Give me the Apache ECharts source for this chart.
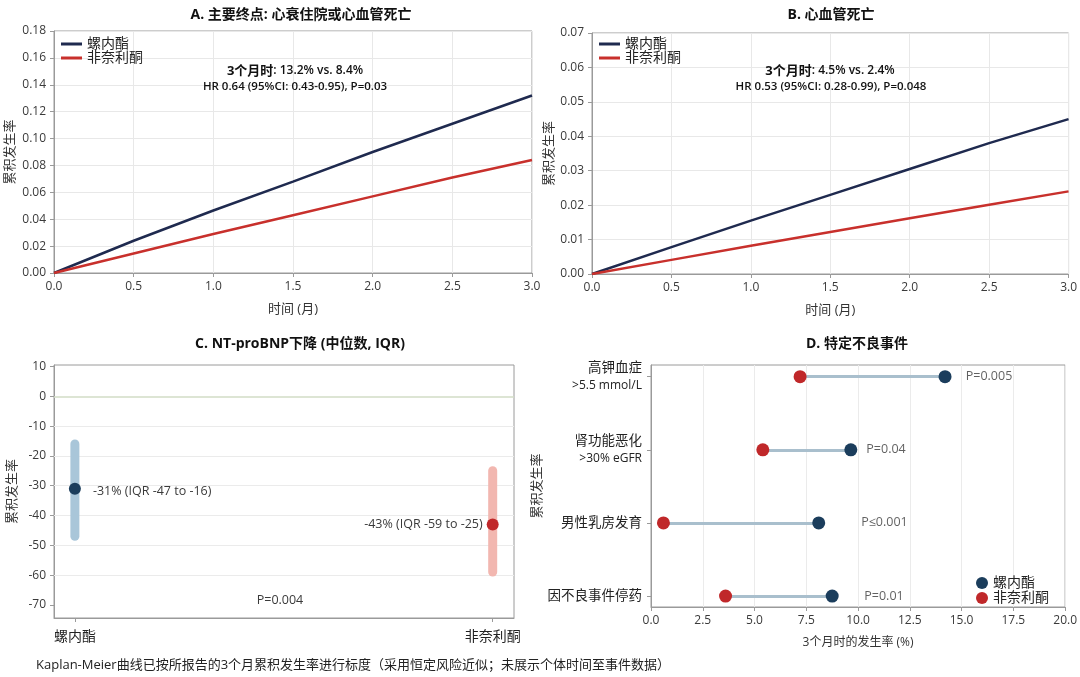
<!DOCTYPE html>
<html>
<head>
<meta charset="utf-8">
<script src="https://cdn.jsdelivr.net/npm/echarts@6/dist/echarts.min.js"></script>
<style>
  html, body { margin: 0; background: #fff; }
  #chart { width: 1080px; height: 677px; }
</style>
</head>
<body>
<div id="chart"></div>
<script>
// A / B: 累积发生率 (按3个月发生率标度)
const months = [0, 0.5, 1, 1.5, 2, 2.5, 3]
const primarySpiro = [0, 0.024, 0.0465, 0.068, 0.090, 0.111, 0.132]
const primaryFine = [0, 0.0145, 0.029, 0.043, 0.057, 0.071, 0.084]
const cvdSpiro = [0, 0.0078, 0.0155, 0.023, 0.0305, 0.038, 0.045]
const cvdFine = [0, 0.0041, 0.0082, 0.0122, 0.0162, 0.0201, 0.024]

// C: NT-proBNP 下降
const cGroups = ['螺内酯', '非奈利酮']
const cMedian = [-31, -43]
const cQ1 = [-47, -59]
const cQ3 = [-16, -25]
const cLabels = ['-31% (IQR -47 to -16)', '-43% (IQR -59 to -25)']
const cTicks = [10, 0, -10, -20, -30, -40, -50, -60, -70]
const cGrid = [-10, -20, -30, -40, -50, -60]

// D: 特定不良事件
const dEvents = ['高钾血症', '肾功能恶化', '男性乳房发育', '因不良事件停药']
const dSub = ['>5.5 mmol/L', '>30% eGFR', '', '']
const dSpiro = [14.2, 9.65, 8.1, 8.75]
const dFine = [7.2, 5.4, 0.6, 3.6]
const dP = ['P=0.005', 'P=0.04', 'P≤0.001', 'P=0.01']
const dPx = [15.2, 10.4, 10.15, 10.3]

const FONT = '"Open Sans", "Noto Sans CJK SC", sans-serif'
const BLUE = '#1f2a4f'
const RED = '#c8302c'
const BLUE_D = '#1b3d5c'
const RED_D = '#c0282a'
const AXIS = '#9a9a9a'
const TXT = '#3a3a3a'

const pairs = (xs, ys) => xs.map((x, i) => [x, ys[i]])

// 通用坐标轴样式
function baseAxis(extra) {
  return Object.assign({
    axisLine: { show: true, onZero: false, lineStyle: { color: AXIS } },
    axisTick: { show: true, length: 4, lineStyle: { color: AXIS } },
    axisLabel: { color: TXT, fontSize: 12, fontFamily: FONT },
    splitLine: { show: true, lineStyle: { color: '#e8e8e8' } },
    nameTextStyle: { color: '#333', fontSize: 13, fontFamily: FONT },
    nameLocation: 'middle'
  }, extra)
}

const gridBox = { show: true, borderColor: AXIS, borderWidth: 1, containLabel: false }

const option = {
  animation: false,
  backgroundColor: '#fff',
  textStyle: { fontFamily: FONT },
  grid: [
    Object.assign({ left: 54, top: 31, width: 478, height: 242 }, gridBox),
    Object.assign({ left: 592, top: 33, width: 477, height: 241 }, gridBox),
    Object.assign({ left: 54, top: 365, width: 460, height: 253 }, gridBox),
    Object.assign({ left: 651, top: 365, width: 416, height: 242 }, gridBox)
  ],
  xAxis: [
    baseAxis({
      gridIndex: 0, type: 'value', min: 0, max: 3, interval: 0.5,
      name: '时间 (月)', nameGap: 30,
      axisLabel: { color: TXT, fontSize: 12, fontFamily: FONT, formatter: v => v.toFixed(1) }
    }),
    baseAxis({
      gridIndex: 1, type: 'value', min: 0, max: 3, interval: 0.5,
      name: '时间 (月)', nameGap: 30,
      axisLabel: { color: TXT, fontSize: 12, fontFamily: FONT, formatter: v => v.toFixed(1) }
    }),
    baseAxis({
      gridIndex: 2, type: 'value', min: -0.05, max: 1.051,
      splitLine: { show: false },
      axisTick: { show: true, length: 4, customValues: [0, 1], lineStyle: { color: AXIS } },
      axisLabel: {
        color: '#222', fontSize: 14, fontFamily: FONT, margin: 12,
        customValues: [0, 1], formatter: v => cGroups[Math.round(v)]
      }
    }),
    baseAxis({
      gridIndex: 3, type: 'value', min: 0, max: 20, interval: 2.5,
      name: '3个月时的发生率 (%)', nameGap: 30,
      nameTextStyle: { color: '#333', fontSize: 12, fontFamily: FONT },
      splitLine: { show: true, lineStyle: { color: '#ebebeb' } },
      axisLabel: { color: TXT, fontSize: 12, fontFamily: FONT, formatter: v => v.toFixed(1) }
    })
  ],
  yAxis: [
    baseAxis({
      gridIndex: 0, type: 'value', min: 0, max: 0.18, interval: 0.02,
      name: '累积发生率', nameGap: 37,
      axisLabel: { color: TXT, fontSize: 12, fontFamily: FONT, formatter: v => v.toFixed(2) }
    }),
    baseAxis({
      gridIndex: 1, type: 'value', min: 0, max: 0.07, interval: 0.01,
      name: '累积发生率', nameGap: 36,
      axisLabel: { color: TXT, fontSize: 12, fontFamily: FONT, formatter: v => v.toFixed(2) }
    }),
    baseAxis({
      gridIndex: 2, type: 'value', min: -74.4, max: 10.5,
      name: '累积发生率', nameGap: 35,
      splitLine: { show: false },
      axisTick: { show: true, length: 4, customValues: cTicks, lineStyle: { color: AXIS } },
      axisLabel: { color: TXT, fontSize: 12, fontFamily: FONT, customValues: cTicks }
    }),
    baseAxis({
      gridIndex: 3, type: 'value', inverse: true, min: -0.16, max: 3.15,
      name: '累积发生率', nameGap: 104,
      splitLine: { show: false },
      axisTick: { show: true, length: 4, customValues: [0, 1, 2, 3], lineStyle: { color: AXIS } },
      axisLabel: {
        customValues: [0, 1, 2, 3], margin: 9, align: 'right',
        formatter: v => {
          const i = Math.round(v)
          return dSub[i] ? '{a|' + dEvents[i] + '}\n{b|' + dSub[i] + '}' : '{a|' + dEvents[i] + '}'
        },
        rich: {
          a: { fontSize: 13.5, color: '#222', fontFamily: FONT, lineHeight: 17, align: 'right' },
          b: { fontSize: 12, color: '#222', fontFamily: FONT, lineHeight: 17, align: 'right' }
        }
      }
    })
  ],
  legend: [
    {
      left: 61, top: 37, orient: 'vertical', icon: 'rect',
      itemWidth: 21, itemHeight: 3, itemGap: 0, padding: 0,
      textStyle: { fontSize: 14, color: '#222', fontFamily: FONT, lineHeight: 14 },
      data: [
        { name: '螺内酯', itemStyle: { color: BLUE } },
        { name: '非奈利酮', itemStyle: { color: RED } }
      ]
    },
    {
      left: 599, top: 37, orient: 'vertical', icon: 'rect',
      itemWidth: 21, itemHeight: 3, itemGap: 0, padding: 0,
      textStyle: { fontSize: 14, color: '#222', fontFamily: FONT, lineHeight: 14 },
      data: [
        { name: '螺内酯', itemStyle: { color: BLUE } },
        { name: '非奈利酮', itemStyle: { color: RED } }
      ]
    },
    {
      left: 976, top: 576, orient: 'vertical', icon: 'circle',
      itemWidth: 12, itemHeight: 12, itemGap: 1, padding: 0,
      textStyle: { fontSize: 14, color: '#222', fontFamily: FONT, lineHeight: 13 },
      data: [
        { name: '螺内酯', itemStyle: { color: BLUE_D } },
        { name: '非奈利酮', itemStyle: { color: RED_D } }
      ]
    }
  ],
  series: [
    // A
    { type: 'line', name: '螺内酯', xAxisIndex: 0, yAxisIndex: 0, data: pairs(months, primarySpiro),
      showSymbol: false, lineStyle: { color: BLUE, width: 2.5 }, itemStyle: { color: BLUE } },
    { type: 'line', name: '非奈利酮', xAxisIndex: 0, yAxisIndex: 0, data: pairs(months, primaryFine),
      showSymbol: false, lineStyle: { color: RED, width: 2.5 }, itemStyle: { color: RED } },
    // B
    { type: 'line', name: '螺内酯', xAxisIndex: 1, yAxisIndex: 1, data: pairs(months, cvdSpiro),
      showSymbol: false, lineStyle: { color: BLUE, width: 2.5 }, itemStyle: { color: BLUE } },
    { type: 'line', name: '非奈利酮', xAxisIndex: 1, yAxisIndex: 1, data: pairs(months, cvdFine),
      showSymbol: false, lineStyle: { color: RED, width: 2.5 }, itemStyle: { color: RED } },
    // C: 网格线 + IQR
    { type: 'line', name: 'IQR-螺内酯', xAxisIndex: 2, yAxisIndex: 2, z: 2,
      data: [[0, cQ1[0]], [0, cQ3[0]]], showSymbol: false, silent: true,
      lineStyle: { color: '#a9c6d9', width: 9, cap: 'round' },
      markLine: {
        silent: true, symbol: 'none', label: { show: false }, z: 1,
        data: cGrid.map(v => ({ yAxis: v, lineStyle: { color: '#ebebeb', width: 1, type: 'solid' } }))
          .concat([{ yAxis: 0, lineStyle: { color: '#d2dcc6', width: 1.5, type: 'solid' } }])
      }
    },
    { type: 'line', name: 'IQR-非奈利酮', xAxisIndex: 2, yAxisIndex: 2, z: 2,
      data: [[1, cQ1[1]], [1, cQ3[1]]], showSymbol: false, silent: true,
      lineStyle: { color: '#f2b7b0', width: 9, cap: 'round' } },
    { type: 'scatter', name: '螺内酯', xAxisIndex: 2, yAxisIndex: 2, z: 5,
      data: [[0, cMedian[0]]], symbolSize: 12, itemStyle: { color: BLUE_D, opacity: 1 },
      label: { show: true, position: 'right', distance: 12, offset: [0, 3], formatter: cLabels[0],
        color: TXT, fontSize: 12.5, fontFamily: FONT } },
    { type: 'scatter', name: '非奈利酮', xAxisIndex: 2, yAxisIndex: 2, z: 5,
      data: [[1, cMedian[1]]], symbolSize: 12, itemStyle: { color: RED_D, opacity: 1 },
      label: { show: true, position: 'left', distance: 4, formatter: cLabels[1],
        color: TXT, fontSize: 12.5, fontFamily: FONT } },
    // D
    { type: 'lines', coordinateSystem: 'cartesian2d', xAxisIndex: 3, yAxisIndex: 3, silent: true, z: 2,
      lineStyle: { color: '#a9bfcd', width: 3, opacity: 1 },
      data: dEvents.map((_, i) => ({ coords: [[dFine[i], i], [dSpiro[i], i]] })) },
    { type: 'scatter', name: '非奈利酮', xAxisIndex: 3, yAxisIndex: 3, z: 5,
      data: dEvents.map((_, i) => [dFine[i], i]), symbolSize: 13, itemStyle: { color: RED_D, opacity: 1 } },
    { type: 'scatter', name: '螺内酯', xAxisIndex: 3, yAxisIndex: 3, z: 5,
      data: dEvents.map((_, i) => [dSpiro[i], i]), symbolSize: 13, itemStyle: { color: BLUE_D, opacity: 1 } },
    { type: 'scatter', name: 'P值', xAxisIndex: 3, yAxisIndex: 3, silent: true,
      data: dEvents.map((_, i) => [dPx[i], i]), symbolSize: 0,
      label: { show: true, position: [0, 0], align: 'left', verticalAlign: 'middle',
        formatter: p => dP[p.dataIndex], color: TXT, fontSize: 12.5, fontFamily: FONT } }
  ],
  graphic: [
    { type: 'text', z: 100, x: 301, y: 15, style: { text: 'A. 主要终点: 心衰住院或心血管死亡', fill: '#111',
      font: 'bold 14px ' + FONT, align: 'center', verticalAlign: 'middle' } },
    { type: 'text', z: 100, x: 831, y: 15, style: { text: 'B. 心血管死亡', fill: '#111',
      font: 'bold 14px ' + FONT, align: 'center', verticalAlign: 'middle' } },
    { type: 'text', z: 100, x: 300, y: 344, style: { text: 'C. NT-proBNP下降 (中位数, IQR)', fill: '#111',
      font: 'bold 14px ' + FONT, align: 'center', verticalAlign: 'middle' } },
    { type: 'text', z: 100, x: 857, y: 344, style: { text: 'D. 特定不良事件', fill: '#111',
      font: 'bold 14px ' + FONT, align: 'center', verticalAlign: 'middle' } },
    // A 注释
    { type: 'text', z: 100, x: 295, y: 71, style: {
      text: '{h|3个月时}{t|: 13.2% vs. 8.4%}', align: 'center', verticalAlign: 'middle',
      rich: { h: { font: 'bold 13px ' + FONT, fill: '#111' }, t: { font: '600 12px ' + FONT, fill: '#111' } } } },
    { type: 'text', z: 100, x: 295, y: 87, style: { text: 'HR 0.64 (95%CI: 0.43-0.95), P=0.03',
      font: '600 11.5px ' + FONT, fill: '#111', align: 'center', verticalAlign: 'middle' } },
    // B 注释
    { type: 'text', z: 100, x: 830, y: 71, style: {
      text: '{h|3个月时}{t|: 4.5% vs. 2.4%}', align: 'center', verticalAlign: 'middle',
      rich: { h: { font: 'bold 13px ' + FONT, fill: '#111' }, t: { font: '600 12px ' + FONT, fill: '#111' } } } },
    { type: 'text', z: 100, x: 831, y: 87, style: { text: 'HR 0.53 (95%CI: 0.28-0.99), P=0.048',
      font: '600 11.5px ' + FONT, fill: '#111', align: 'center', verticalAlign: 'middle' } },
    // C 的P值
    { type: 'text', z: 100, x: 280, y: 600, style: { text: 'P=0.004', font: '12.5px ' + FONT, fill: TXT,
      align: 'center', verticalAlign: 'middle' } },
    // 脚注
    { type: 'text', z: 100, x: 36, y: 665, style: {
      text: 'Kaplan-Meier曲线已按所报告的3个月累积发生率进行标度（采用恒定风险近似；未展示个体时间至事件数据）',
      font: '13px ' + FONT, fill: '#222', align: 'left', verticalAlign: 'middle' } }
  ]
}

const chart = echarts.init(document.getElementById('chart'), null, { renderer: 'canvas' })
chart.setOption(option)
</script>
</body>
</html>
